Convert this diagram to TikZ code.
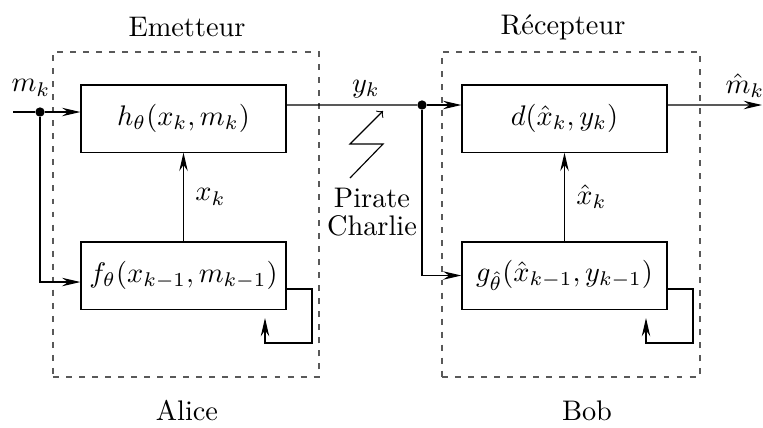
\documentclass[tikz,border=0pt]{standalone}
\usepackage{amsmath,amssymb}
\usepackage{tikz}
\usetikzlibrary{arrows.meta,positioning}

\begin{document}
\begin{tikzpicture}[
  x=0.353pt, y=-0.353pt,
  blk/.style={draw, minimum width=72.4pt, minimum height=23.7pt, inner sep=0pt},
  zone/.style={draw=black!65, dash pattern=on 2.1pt off 2.5pt, minimum height=114.7pt, inner sep=0pt},
  dot/.style={circle, fill, inner sep=0pt, minimum size=3.3pt},
  arw/.style={-{Stealth[length=6.5pt,width=3pt,inset=2.2pt]}},
  lbl/.style={inner sep=0pt},
]
\useasboundingbox (0,0) rectangle (763,427);

\node[zone, minimum width=93.9pt] (em) at (186,214.5) {};
\node[zone, minimum width=91.1pt] (rec) at (571,214.5) {};
\node[lbl] (emt) at (187,27) {Emetteur};
\node[lbl] (rect) at (563,27) {R\'ecepteur};
\node[lbl] (alice) at (187,411) {Alice};
\node[lbl] (bob) at (587,411) {Bob};

\node[blk] (h) at (183.5,118.5) {$h_\theta(x_k,m_k)$\hspace{9pt}};
\node[blk] (f) at (183.5,275.5) {$f_\theta(x_{k-1},m_{k-1})$};
\node[blk] (d) at (564.5,118.5) {$d(\hat{x}_k,y_k)$\hspace{8pt}};
\node[blk] (g) at (564.5,275.5) {$g_{\hat{\theta}}(\hat{x}_{k-1},y_{k-1})$\hspace{3pt}};

\coordinate (in) at (13,112);
\node[dot] (dotA) at (40,112) {};
\node[lbl] (mk) at (31,88) {$m_k$};
\draw (in) -- (dotA);
\draw[arw] (dotA) -- (dotA -| h.west);
\draw[arw] (dotA) |- ([yshift=-2.3pt]f.west);

\draw[arw] (f.north) -- node[right=4pt, lbl] {$x_k$} (h.south);
\draw[arw] (g.north) -- node[right=4pt, lbl] {$\hat{x}_k$} (d.south);

\node[dot] (dotB) at (422,105) {};
\node[lbl] (yk) at (366,89) {$y_k$};
\draw ([yshift=4.77pt]h.east) -- (dotB);
\draw[arw] (dotB) -- (dotB -| d.west);
\draw[arw] (dotB) |- (g.west);

\coordinate (out) at (762,105);
\node[lbl] (mhat) at (745,86) {$\hat{m}_k$};
\draw[arw] ([yshift=4.77pt]d.east) -- (out);

\coordinate (fA) at (312,343);
\coordinate (fB) at (265,318);
\draw[arw] ([yshift=-4.77pt]f.east) -| (fA) -| (fB);
\coordinate (gA) at (693,343);
\coordinate (gB) at (646,318);
\draw[arw] ([yshift=-4.77pt]g.east) -| (gA) -| (gB);

\coordinate (z1) at (350,178);
\coordinate (z2) at (383,144);
\coordinate (z3) at (350,144);
\coordinate (z4) at (383,111);
\draw[-to] (z1) -- (z2) -- (z3) -- (z4);
\node[lbl, align=center] (pirate) at (372,212) {Pirate\\[-2pt]Charlie};

\end{tikzpicture}
\end{document}
